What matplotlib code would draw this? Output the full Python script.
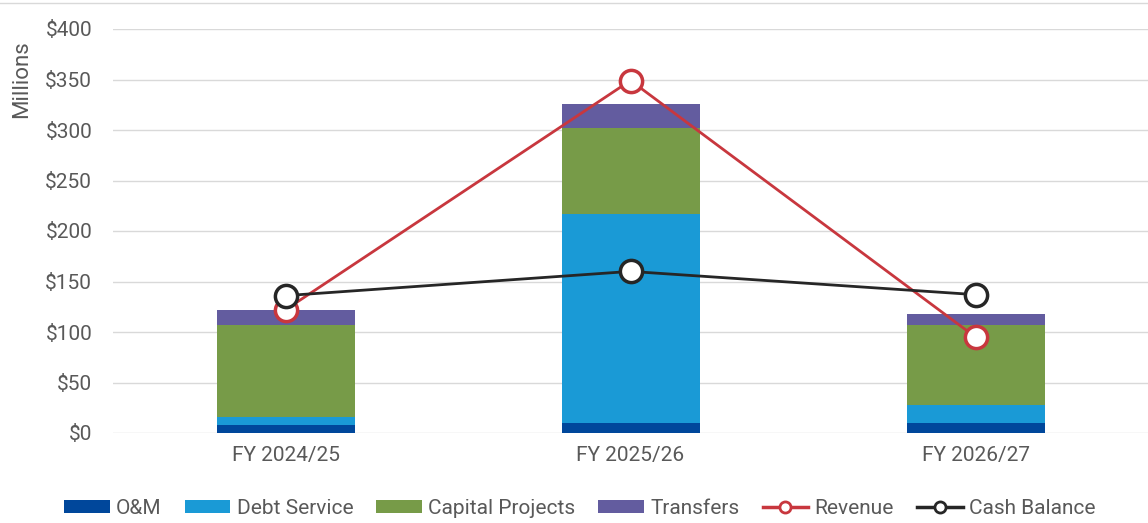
import matplotlib.pyplot as plt
import numpy as np
from matplotlib.ticker import FuncFormatter
from matplotlib.patches import Patch
from matplotlib.lines import Line2D

plt.rcParams['font.family'] = ['Roboto', 'DejaVu Sans']

years = ["FY 2024/25", "FY 2025/26", "FY 2026/27"]
om = [8, 10, 10]
debt_service = [8, 207, 18]
capital_projects = [91, 85, 79]
transfers = [15, 24, 11]
revenue = [122, 349, 95]
cash_balance = [136, 160, 137]

grey = "#595959"
colors = {"om": "#00479B", "debt": "#1A9AD6", "cap": "#779B48",
          "tr": "#635C9F", "rev": "#C8373E", "cash": "#262626"}

fig = plt.figure(figsize=(11.48, 5.23), dpi=100)
ax = fig.add_axes([113 / 1148, 90 / 523, 1035 / 1148, 404 / 523])

x = np.arange(len(years))
w = 0.4
bottom = np.zeros(len(years))
handles = []
for vals, key, lab in [(om, "om", "O&M"), (debt_service, "debt", "Debt Service"),
                       (capital_projects, "cap", "Capital Projects"),
                       (transfers, "tr", "Transfers")]:
    ax.bar(x, vals, w, bottom=bottom, color=colors[key], zorder=2)
    bottom += np.array(vals)
    handles.append(Patch(facecolor=colors[key], label=lab))

ax.plot(x, revenue, color=colors["rev"], lw=2, marker="o", ms=16,
        mfc="white", mec=colors["rev"], mew=2.5, zorder=3)
ax.plot(x, cash_balance, color=colors["cash"], lw=2, marker="o", ms=16,
        mfc="white", mec=colors["cash"], mew=2.5, zorder=4)
for key, lab in [("rev", "Revenue"), ("cash", "Cash Balance")]:
    handles.append(Line2D([], [], color=colors[key], lw=2.5, marker="o", ms=8,
                          mfc="white", mec=colors[key], mew=2, label=lab))

ax.set_xlim(-0.5, 2.5)
ax.set_ylim(0, 400)
ax.set_yticks(range(0, 401, 50))
ax.yaxis.set_major_formatter(FuncFormatter(lambda v, p: f"${v:.0f}"))
ax.set_xticks(x)
ax.set_xticklabels(years)
ax.grid(axis="y", color="#d9d9d9", lw=1, zorder=0)
for s in ax.spines.values():
    s.set_visible(False)
ax.tick_params(axis="both", length=0, labelsize=15, colors=grey)
ax.tick_params(axis="y", pad=15)
ax.tick_params(axis="x", pad=9)
ax.set_ylabel("Millions", fontsize=16, color=grey)
ax.yaxis.set_label_coords(-0.078, 0.875)

leg = fig.legend(handles=handles, loc="center", bbox_to_anchor=(0.505, 15 / 523),
                 ncol=6, frameon=False, fontsize=15, handlelength=2.2,
                 handleheight=0.6, columnspacing=1.1, handletextpad=0.3)
for t in leg.get_texts():
    t.set_color(grey)

# thin light border at top like the reference frame
fig.add_artist(Line2D([0, 1], [1 - 3 / 523, 1 - 3 / 523], color="#d9d9d9", lw=1))

fig.savefig("out.png", dpi=100)
